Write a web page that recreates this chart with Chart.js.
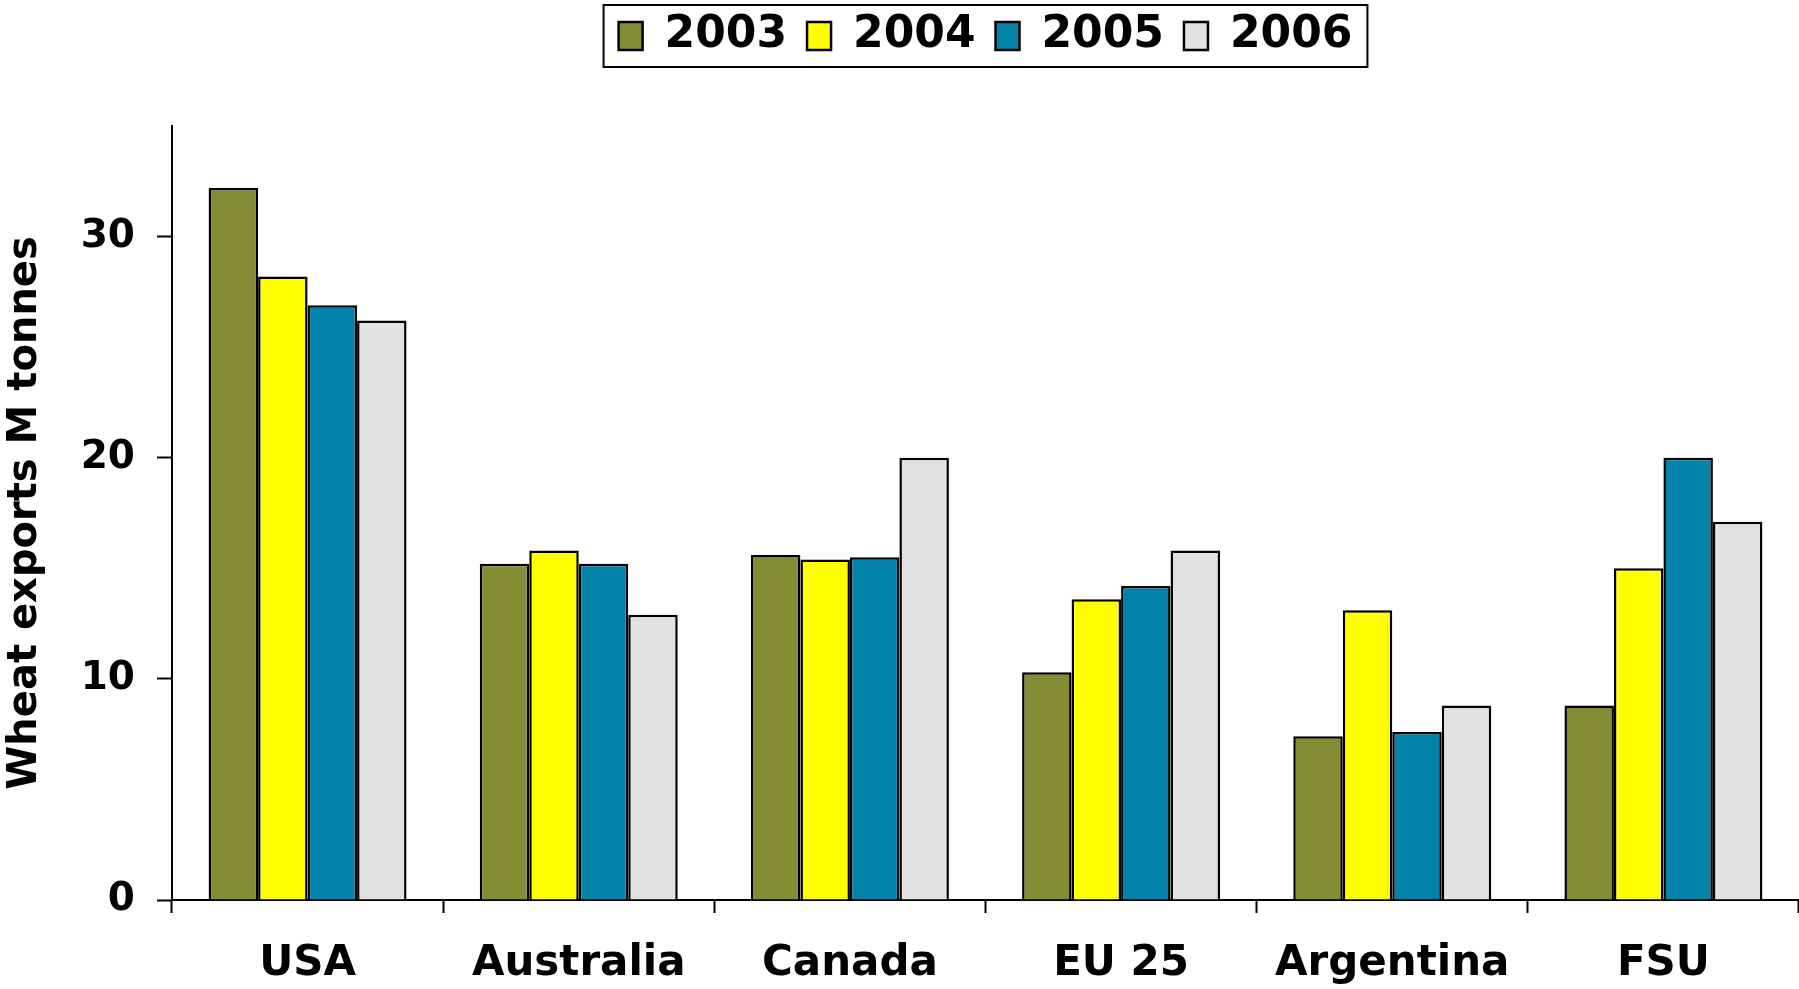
<!DOCTYPE html>
<html lang="en">
<head>
<meta charset="UTF-8">
<title>Wheat exports 2003-2006</title>
<style>
  html, body { margin: 0; padding: 0; background: #ffffff; }
  canvas { display: block; }
</style>
</head>
<body>
<canvas id="exportsChart" width="1799" height="989"></canvas>

<script src="https://cdn.jsdelivr.net/npm/chart.js"></script>
<script>
// Wheat exports by exporter, million tonnes
const countries = ["USA", "Australia", "Canada", "EU 25", "Argentina", "FSU"];
const years = ["2003", "2004", "2005", "2006"];
const exports2003 = [32.2, 15.2, 15.6, 10.3, 7.4, 8.8];
const exports2004 = [28.2, 15.8, 15.4, 13.6, 13.1, 15.0];
const exports2005 = [26.9, 15.2, 15.5, 14.2, 7.6, 20.0];
const exports2006 = [26.2, 12.9, 20.0, 15.8, 8.8, 17.1];
const yTicks = [0, 10, 20, 30];

const FONT = "'DejaVu Sans', Verdana, sans-serif";

// light grey with a fine dot texture for the 2006 bars
function dottedGrey() {
    const c = document.createElement("canvas");
    c.width = 4;
    c.height = 4;
    const g = c.getContext("2d");
    g.fillStyle = "#e4e4e4";
    g.fillRect(0, 0, 4, 4);
    g.fillStyle = "#d0d0d0";
    g.fillRect(0, 0, 1, 1);
    g.fillRect(2, 2, 1, 1);
    return g.createPattern(c, "repeat");
}

// framed legend, with extra room under it before the plot
const legendFrame = {
    id: "legendFrame",
    beforeInit(chart) {
        const legend = chart.legend;
        const fit = legend.fit;
        legend.fit = function () {
            fit.call(this);
            this.height = 132;
        };
    },
    afterDraw(chart) {
        const boxes = chart.legend.legendHitBoxes;
        if (!boxes || !boxes.length) return;
        const first = boxes[0];
        const last = boxes[boxes.length - 1];
        const mid = first.top + first.height / 2;
        const ctx = chart.ctx;
        ctx.save();
        ctx.strokeStyle = "#000";
        ctx.lineWidth = 2;
        ctx.strokeRect(first.left - 15, mid - 31, last.left + last.width - first.left + 30, 62);
        ctx.restore();
    }
};

const seriesColors = ["#838b33", "#ffff00", "#0382aa", dottedGrey()];
const seriesData = [exports2003, exports2004, exports2005, exports2006];

const ctx = document.getElementById("exportsChart").getContext("2d");
new Chart(ctx, {
    type: "bar",
    data: {
        labels: countries,
        datasets: years.map((y, i) => ({
            label: y,
            data: seriesData[i],
            backgroundColor: seriesColors[i],
            borderColor: "#000",
            borderWidth: 2.5,
            categoryPercentage: 0.73,
            barPercentage: 1.0
        }))
    },
    options: {
        responsive: false,
        animation: false,
        layout: { padding: { top: -6, right: 0, bottom: 0, left: 0 } },
        plugins: {
            legend: {
                position: "top",
                fullSize: false,
                labels: {
                    color: "#000",
                    font: { family: FONT, size: 44, weight: "bold" },
                    boxWidth: 24,
                    boxHeight: 28,
                    padding: 20
                }
            },
            tooltip: { enabled: false }
        },
        scales: {
            x: {
                grid: {
                    drawOnChartArea: false,
                    drawTicks: true,
                    tickLength: 13,
                    tickWidth: 2,
                    tickColor: "#000",
                    offset: true
                },
                border: { color: "#000", width: 2 },
                ticks: {
                    color: "#000",
                    font: { family: FONT, size: 42, weight: "bold" },
                    padding: 26,
                    maxRotation: 0
                },
                afterFit(scale) { scale.height = 89; }
            },
            y: {
                min: 0,
                max: 35,
                afterBuildTicks(scale) {
                    scale.ticks = yTicks.map(v => ({ value: v }));
                },
                grid: {
                    drawOnChartArea: false,
                    drawTicks: true,
                    tickLength: 15,
                    tickWidth: 2,
                    tickColor: "#000"
                },
                border: { color: "#000", width: 2 },
                ticks: {
                    color: "#000",
                    font: { family: FONT, size: 39, weight: "bold" },
                    padding: 22
                },
                title: {
                    display: true,
                    text: "Wheat exports M tonnes",
                    color: "#000",
                    font: { family: FONT, size: 40, weight: "bold" },
                    padding: { top: 2, bottom: 0 }
                },
                afterFit(scale) { scale.width = 172; }
            }
        }
    },
    plugins: [legendFrame]
});
</script>
</body>
</html>
